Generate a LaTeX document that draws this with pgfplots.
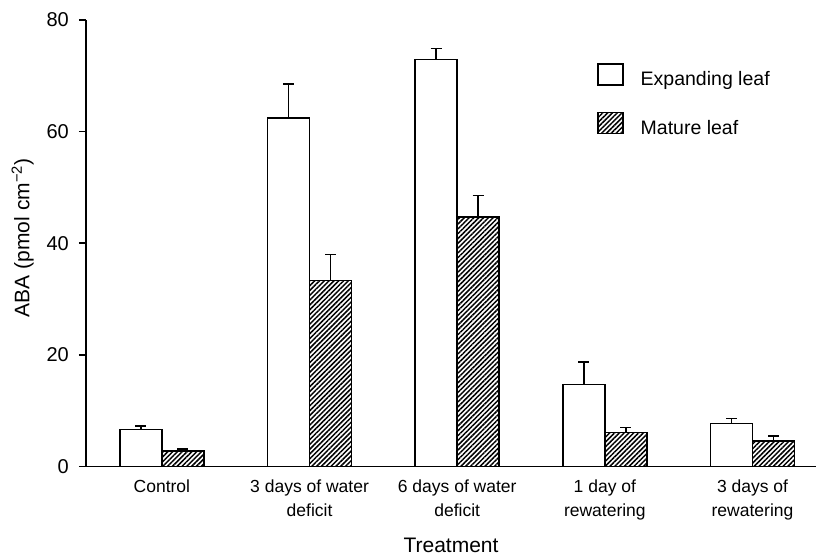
\documentclass[border=0pt]{standalone}
\usepackage{fontspec}
\setmainfont{Liberation Sans}
\usepackage{pgfplots}
\pgfplotsset{compat=1.18}
\usetikzlibrary{patterns.meta}
\pgfplotsset{boxleg/.style={legend image code/.code={\draw[##1, line width=1.5pt] (0pt,-4pt) rectangle (25pt,17pt);}}}

\begin{document}
\begin{tikzpicture}[x=1pt,y=1pt]
\path[use as bounding box] (-86,-90.5) rectangle (732,466.5);
\begin{axis}[
  at={(0,0)}, anchor=south west,
  scale only axis, width=730pt, height=446.5pt,
  xmin=-0.514, xmax=4.43, ymin=0, ymax=80,
  axis x line*=bottom, axis y line*=left,
  axis line style={line width=1.6pt, -},
  ytick={0,20,40,60,80},
  xtick={0,1,2,3,4},
  xticklabels={Control,{3 days of water\\deficit},{6 days of water\\deficit},{1 day of\\rewatering},{3 days of\\rewatering}},
  tick align=outside,
  major tick length=7pt,
  xtick style={draw=none},
  ytick style={line width=1.6pt, black},
  /pgf/number format/assume math mode=true,
  yticklabel style={font=\fontsize{20}{22}\selectfont, inner sep=0pt, xshift=-10pt},
  xticklabel style={font=\fontsize{17.5}{24}\selectfont, align=center, inner sep=0pt, yshift=-6pt},
  ylabel={ABA (pmol cm\textsuperscript{−2})},
  ylabel style={at={(axis description cs:-0.0712,0.512)}, anchor=south, inner sep=0pt, font=\fontsize{21}{24}\selectfont},
  xlabel={Treatment},
  xlabel style={at={(axis description cs:0.5,-0.1937)}, anchor=base, inner sep=0pt, font=\fontsize{21}{24}\selectfont},
  ybar=0pt, bar width=42pt,
  legend style={at={(0.700,0.904)}, anchor=north west, draw=none, fill=none, inner sep=0pt,
    row sep=22pt, column sep=17pt,
    nodes={inner sep=0pt, text height=14pt, text depth=4pt, font=\fontsize{19.5}{22}\selectfont}},
  legend cell align=left,
  clip=false,
]
\addplot[fill=white, draw=black, line width=1.5pt, boxleg,
  error bars/.cd, y dir=plus, y explicit, error mark=|,
  error bar style={line width=1.5pt, black},
  error mark options={mark size=5.5pt, line width=1.5pt, black}]
  coordinates {(0,6.6) +- (0,0.7) (1,62.4) +- (0,6.1) (2,72.9) +- (0,2.0) (3,14.7) +- (0,4.0) (4,7.7) +- (0,0.9)};
\addlegendentry{Expanding leaf}
\addplot[fill=white, draw=black, line width=1.5pt, boxleg,
  postaction={pattern={Lines[angle=45,distance=3.4pt,line width=1.5pt]}, pattern color=black},
  error bars/.cd, y dir=plus, y explicit, error mark=|,
  error bar style={line width=1.5pt, black},
  error mark options={mark size=5.5pt, line width=1.5pt, black}]
  coordinates {(0,2.8) +- (0,0.3) (1,33.3) +- (0,4.7) (2,44.7) +- (0,3.9) (3,6.1) +- (0,0.9) (4,4.6) +- (0,0.9)};
\addlegendentry{Mature leaf}
\end{axis}
\end{tikzpicture}
\end{document}
